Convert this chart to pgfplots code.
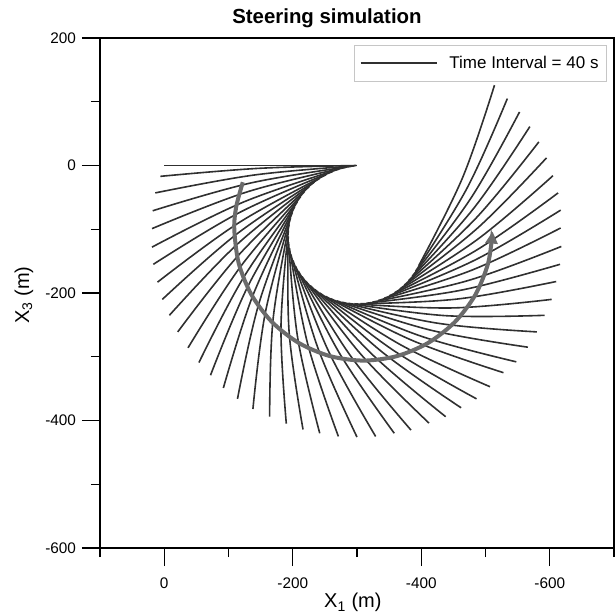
\documentclass[border=0pt]{standalone}
\usepackage{fontspec}
\setmainfont{Liberation Sans}
\usepackage{pgfplots}
\pgfplotsset{compat=1.18}
\usetikzlibrary{arrows.meta}
\definecolor{cablecol}{HTML}{303030}
\definecolor{arrowgray}{HTML}{6B6B6B}
\begin{document}
\begin{tikzpicture}
\useasboundingbox (-75pt,-50.25pt) rectangle (387pt,411pt);
\begin{axis}[
  at={(0pt,0pt)}, anchor=south west,
  scale only axis, width=385.5pt, height=382.5pt,
  x dir=reverse, xmin=-700, xmax=100, ymin=-600, ymax=200,
  xtick={-600,-400,-200,0}, ytick={-600,-400,-200,0,200},
  minor xtick={-700,-500,-300,-100,100}, minor ytick={-500,-300,-100,100},
  tick pos=left, tick align=outside,
  major tick length=13.5pt, minor tick length=6.75pt,
  tick style={black, line width=1pt},
  axis line style={line width=1pt},
  /pgf/number format/assume math mode=true,
  tick label style={font=\fontsize{11.5}{13}\selectfont},
  xticklabel style={yshift=-5pt},
  yticklabel style={xshift=-1pt},
  title={\textbf{Steering simulation}},
  title style={at={(axis description cs:0.4416,1.0118)}, anchor=base, font=\fontsize{15.3}{18}\selectfont},
  xlabel={X\textsubscript{1} (m)},
  xlabel style={at={(axis description cs:0.492,-0.1176)}, anchor=base, font=\fontsize{15}{18}\selectfont},
  ylabel={X\textsubscript{3} (m)},
  ylabel style={at={(axis description cs:-0.1381,0.496)}, anchor=base, font=\fontsize{15}{18}\selectfont},
  legend style={at={(axis description cs:0.986,0.986)}, anchor=north east, draw=gray!45, thin,
    font=\fontsize{12.75}{15}\selectfont, inner xsep=4pt, inner ysep=6pt, cells={anchor=west}},
  legend image code/.code={\draw[#1, line width=1.2pt] (0pt,0pt) -- (57pt,0pt); \path (64pt,0pt);},
  cable/.style={color=cablecol, line width=1.2pt, smooth, tension=0.6},
]
\addplot[cable] coordinates {(0,0) (-300,0)};
\addlegendentry{Time Interval = 40 s}
\addplot[cable, forget plot] coordinates {(6,-17) (-146.3,-4.5) (-299,0)};
\addplot[cable, forget plot] coordinates {(14,-43) (-140.2,-14.9) (-296.2,-0.6)};
\addplot[cable, forget plot] coordinates {(18,-71) (-134.7,-27.4) (-291.4,-1.3)};
\addplot[cable, forget plot] coordinates {(19,-99) (-129,-41.4) (-283,-2.8)};
\addplot[cable, forget plot] coordinates {(19,-128) (-122.9,-57.5) (-272.6,-5.5)};
\addplot[cable, forget plot] coordinates {(17,-155) (-118,-73.3) (-262.2,-9.4)};
\addplot[cable, forget plot] coordinates {(10.5,-183) (-115.3,-90.3) (-251.9,-14.4)};
\addplot[cable, forget plot] coordinates {(3,-210) (-113.4,-107.1) (-242,-20.1)};
\addplot[cable, forget plot] coordinates {(-8,-235) (-114.1,-123.1) (-233.8,-25.9)};
\addplot[cable, forget plot] coordinates {(-21,-261) (-116,-140.3) (-225.8,-32.9)};
\addplot[cable, forget plot] coordinates {(-37,-286) (-119.6,-157.5) (-218.3,-40.9)};
\addplot[cable, forget plot] coordinates {(-54,-309) (-124.7,-173.6) (-212.4,-48.6)};
\addplot[cable, forget plot] coordinates {(-72,-329) (-130.8,-188.2) (-207.5,-56.3)};
\addplot[cable, forget plot] coordinates {(-92,-349) (-138.2,-203.2) (-203,-64.7)};
\addplot[cable, forget plot] coordinates {(-114,-366) (-147.2,-216.9) (-199.5,-73.4)};
\addplot[cable, forget plot] coordinates {(-138,-382) (-157.4,-230.4) (-196.5,-82.7)};
\addplot[cable, forget plot] coordinates {(-164,-394) (-169.3,-242.1) (-194.5,-92.2)};
\addplot[cable, forget plot] coordinates {(-190,-405) (-181.7,-253.2) (-193.3,-101.7)};
\addplot[cable, forget plot] coordinates {(-216,-414) (-194.5,-263.3) (-193,-111)};
\addplot[cable, forget plot] coordinates {(-242,-420) (-207.9,-271.6) (-193.5,-120.1)};
\addplot[cable, forget plot] coordinates {(-271,-425) (-223.3,-279.9) (-194.9,-129.9)};
\addplot[cable, forget plot] coordinates {(-300,-426) (-239.1,-286.1) (-197.1,-139.5)};
\addplot[cable, forget plot] coordinates {(-329,-425) (-255.6,-291.1) (-200.3,-148.8)};
\addplot[cable, forget plot] coordinates {(-358,-420) (-272.5,-294) (-204.3,-157.9)};
\addplot[cable, forget plot] coordinates {(-384,-415) (-288.2,-296.1) (-208.7,-165.7)};
\addplot[cable, forget plot] coordinates {(-412,-404) (-305.6,-295.6) (-214.4,-174.2)};
\addplot[cable, forget plot] coordinates {(-438,-394) (-322.2,-294.9) (-220.4,-181.5)};
\addplot[cable, forget plot] coordinates {(-462,-380) (-338.2,-291.8) (-227,-188.2)};
\addplot[cable, forget plot] coordinates {(-486,-366) (-354.4,-288.4) (-234.1,-194.3)};
\addplot[cable, forget plot] coordinates {(-507,-347) (-369.6,-282.2) (-241.9,-199.9)};
\addplot[cable, forget plot] coordinates {(-528,-325) (-385.5,-274.2) (-250.9,-205.1)};
\addplot[cable, forget plot] coordinates {(-548,-308) (-400.2,-267.9) (-258.9,-208.8)};
\addplot[cable, forget plot] coordinates {(-566,-285) (-414.7,-258.3) (-268.1,-212.1)};
\addplot[cable, forget plot] coordinates {(-580,-261) (-427,-247.6) (-277.1,-214.5)};
\addplot[cable, forget plot] coordinates {(-592,-235) (-438.7,-235.6) (-286.6,-216.2)};
\addplot[cable, forget plot] coordinates {(-603,-210) (-449.2,-223.4) (-295.8,-216.9)};
\addplot[cable, forget plot] coordinates {(-610,-182) (-456.6,-209.4) (-305.4,-216.9)};
\addplot[cable, forget plot] coordinates {(-616,-155) (-463.4,-195.3) (-314.7,-216)};
\addplot[cable, forget plot] coordinates {(-618,-127) (-473.8,-180.2) (-324,-214.3)};
\addplot[cable, forget plot] coordinates {(-617,-98) (-478.9,-164.1) (-333.4,-211.7)};
\addplot[cable, forget plot] coordinates {(-617,-70) (-484,-148.1) (-342.1,-208.4)};
\addplot[cable, forget plot] coordinates {(-613,-43) (-486.9,-132.2) (-350.4,-204.4)};
\addplot[cable, forget plot] coordinates {(-605,-16) (-487.7,-115.8) (-358.5,-199.6)};
\addplot[cable, forget plot] coordinates {(-595,12) (-487.5,-98.3) (-366.6,-193.8)};
\addplot[cable, forget plot] coordinates {(-583,37) (-485.6,-82.2) (-373.6,-187.7)};
\addplot[cable, forget plot] coordinates {(-569,61) (-482.4,-66.2) (-380.1,-181)};
\addplot[cable, forget plot] coordinates {(-553,84) (-477.9,-50.3) (-386,-173.7)};
\addplot[cable, forget plot] coordinates {(-534,105) (-471.5,-35.1) (-391.3,-165.8)};
\addplot[cable, forget plot] coordinates {(-514,126) (-464.2,-19.4) (-396,-157.2)};
% steering direction arrow
\addplot[forget plot, color=arrowgray, line width=3pt, smooth, -{Triangle[length=9pt,width=9pt]}] coordinates {
(-122.3,-26.2) (-112.1,-64.2) (-109,-100) (-115.9,-153.3) (-135.9,-203) (-167.9,-245.7)
(-209.5,-278.4) (-258,-299) (-310,-306) (-362,-299) (-410.5,-278.4) (-452.1,-245.7)
(-484.1,-203) (-504.1,-153.3) (-511,-103.6)};
\end{axis}
\end{tikzpicture}
\end{document}
